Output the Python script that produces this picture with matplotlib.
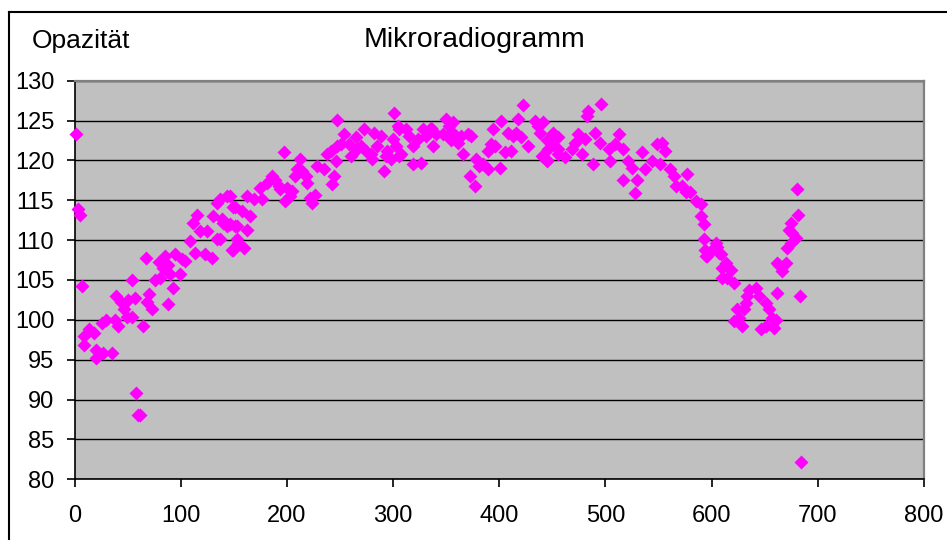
import matplotlib
matplotlib.use("Agg")
import matplotlib.pyplot as plt
from matplotlib.lines import Line2D

# position along the sample (x) and opacity (y)
pos = [1.6, 3, 5, 7, 9, 9, 14, 18, 20.5, 20, 27, 35, 26, 30, 38, 41, 39, 44, 47, 49,
       54, 57, 50, 54.5, 58, 60, 62, 64.6, 67.8, 70, 68.6, 73, 75.6, 79.7, 80.4, 83.5,
       85, 88.2, 89.8, 94.6, 93, 88.2, 99.3, 100.9, 104, 108.7, 113.5, 115, 111.9, 118.2,
       124.5, 129.3, 123, 134, 134, 137, 143.4, 146.6, 149.7, 151.3, 140.2, 130.8, 143.4,
       148.2, 152.9,
       138.7, 146.6, 152.9, 162.4, 165.5, 151.3, 157.6, 137, 149.7, 159.2, 154.4, 162.4,
       168.7, 175, 176.6, 181.3, 186.1, 189.1, 192.3, 193.9, 200.2, 198.6, 203, 204.6,
       197, 212.8, 209.7, 208.1, 214.4, 217.6, 219.2, 222.2, 226.9, 223.8, 228.6, 234.8,
       238, 241.1, 245.8, 244.3, 242.6, 247.5, 246.9, 253.8, 250.6, 258.5, 260, 264.8,
       266.4, 269.5, 272.6, 274.2, 278.9, 280.5, 282.1, 288.4, 285.3, 291.6, 293.1, 294.7,
       297.9, 299.5, 302.6, 301, 304.2, 305.7,
       307.4, 305.8, 312, 315.2, 318.4, 318.4, 326.3, 323.1, 327.8, 331, 335.7, 337.3,
       340.4, 346.7, 349.9, 353, 356.2, 351.5, 354.6, 357.8, 360.9, 364.1, 365.7, 370.4,
       373.6, 372, 378.3, 376.7, 381.4, 384.6, 389.3, 389.3, 394.1, 392.5, 395.6, 400.4,
       401.9, 405.1, 408.3, 411.4, 413, 416.1, 417.7, 422.5, 420.9, 427.2, 433.5, 436.6,
       439.8, 438.2, 444.5, 446.1, 449.3, 450.8, 455.6, 455.6,
       441.3, 444.5, 452.4, 444.5, 455.6, 461.9, 468.2, 474.5, 477.6, 471.3, 483.9, 482.3,
       496, 480.8, 490.2, 488.6, 495, 502.9, 504.5, 512.4, 509.2, 516.6, 517, 521.7,
       524.9, 528.1, 529.6, 534.4, 537.5, 543.8, 548.6, 553.3, 556.5, 551.7, 561.2, 564.4,
       566, 577, 572.2, 575.4, 580.1, 584.9, 589.6, 589.6, 592.8, 592.8, 594.4, 603.8,
       599.1, 607, 610.1, 610.1,
       594, 608.4, 595.7, 605.2, 613.1, 617.8, 614.7, 621, 635.2, 641.5, 644.6, 633.6,
       624.1, 630.4, 632, 620.9, 628.8, 625.7, 646.2, 650.9, 658.8, 657.2, 654.1, 650.9,
       660.4, 662, 663.5, 666.7, 669.8, 662, 671.4, 674.5, 679.3, 676.1, 673, 674.5,
       681.5, 680, 683.5, 684.5]

opacity = [123.3, 113.9, 113.2, 104.2, 96.9, 98.0, 98.8, 98.4, 95.2, 96.2, 95.9, 95.8,
           99.6, 100, 100, 99.2, 103, 102.3, 101.3, 100.3, 100.4, 102.8, 102.5, 105, 90.8,
           88.1, 88.1, 99.2, 107.8, 103.2, 102.3, 101.3, 105, 107.2, 105.3, 106.5, 108,
           106.9, 105.7, 108.2, 104, 102, 105.7, 107.6, 107.4, 109.9, 108.4, 113.2, 112.2,
           111.1, 111.1, 107.8, 108.2, 110.1, 114.7, 115.1, 115.5, 115.5, 114.1, 111.8,
           112.2, 113, 111.8, 108.8, 110.1,
           112.6, 112, 111.8, 111.3, 113, 114.1, 113.6, 110.1, 108.8, 109, 109.7, 115.5,
           115.1, 116.6, 115.1, 117.2, 118.1, 117.6, 116.8, 116.4, 116.6, 114.9, 115.5,
           116.2, 121.1, 120.2, 118.9, 118.1, 118.7, 118.1, 117.2, 115.3, 115.7, 114.7,
           119.3, 118.9, 120.8, 121.2, 119.9, 118.1, 117, 121.8, 125.1, 123.3, 122, 122,
           120.6, 122.9, 121.4, 121.8, 124, 121.2, 120.8, 120.2, 123.5, 123.1, 121.8,
           118.7, 120.6, 121.2, 120.2, 122.7, 121.8, 126, 124.3, 120.6,
           120.8, 123.9, 123.9, 123.1, 121.8, 119.5, 119.7, 122.7, 123.9, 123.1, 124.1,
           121.8, 123.3, 123.3, 125.2, 124.3, 124.8, 123.1, 122.5, 123.3, 122.2, 123.1,
           120.8, 123.3, 123.1, 118.1, 120.2, 116.8, 119.3, 119.5, 118.9, 121.2, 123.9,
           122, 121.8, 119.1, 125, 121, 123.5, 121.2, 123.1, 123.5, 125.2, 126.9, 122.9,
           121.8, 125, 124.3, 120.6, 123.5, 119.9, 121.4, 122, 123.5, 122.9, 120.8,
           124.8, 122.5, 123.1, 120.1, 121.4, 120.4, 121.4, 123.3, 120.8, 122.2, 126.2,
           125.6, 127.1, 122.7, 123.5, 119.5, 122.2, 121.4, 119.9, 123.3, 122, 121.4,
           117.6, 119.9, 119.1, 115.9, 117.6, 121, 118.9, 119.9, 122, 122.2, 121.2, 119.5,
           118.9, 118, 116.8, 118.3, 116.8, 116, 116, 114.9, 114.5, 113, 112, 110.1, 108,
           109.7, 108.6, 108.4, 106.5, 105.3,
           108.8, 108.2, 108, 109.2, 107.1, 106.3, 105.3, 104.6, 103.8, 104, 103, 103,
           101.3, 101.3, 102.1, 99.8, 99.2, 100.2, 98.8, 99.2, 99, 100.2, 101.3, 102.1,
           100, 103.4, 106.9, 106.1, 107.1, 107.1, 109, 109.7, 110.3, 110.9, 111.3, 112.2,
           113.2, 116.4, 103, 82.2]

x_ticks = [0, 100, 200, 300, 400, 500, 600, 700, 800]
y_ticks = [80, 85, 90, 95, 100, 105, 110, 115, 120, 125, 130]

plt.rcParams['font.family'] = ['Liberation Sans', 'DejaVu Sans']

fig = plt.figure(figsize=(9.47, 5.40), dpi=100)
fig.patch.set_facecolor('white')
ax = fig.add_axes([74.5 / 947, 1 - 479.3 / 540, (924 - 74.5) / 947, (479.3 - 80.7) / 540])
ax.set_facecolor('#C0C0C0')

ax.plot(pos, opacity, linestyle='none', marker='D', ms=7, color='#FF00FF',
        mec='none', zorder=3, clip_on=False)

ax.set_xlim(0, 800)
ax.set_ylim(80, 130)
ax.set_xticks(x_ticks)
ax.set_yticks(y_ticks)
ax.yaxis.grid(True, color='black', linewidth=1.0)
ax.set_axisbelow(True)

ax.tick_params(axis='both', direction='out', length=5.5, width=1.2, labelsize=17,
               colors='black')
ax.tick_params(axis='y', pad=9)
ax.tick_params(axis='x', pad=13)

for side in ['left', 'bottom']:
    ax.spines[side].set_color('black')
    ax.spines[side].set_linewidth(1.2)
for side in ['top', 'right']:
    ax.spines[side].set_color('#808080')
    ax.spines[side].set_linewidth(1.6)

fig.text(474 / 947, 1 - 47 / 540, 'Mikroradiogramm', ha='center', va='baseline',
         fontsize=20.5)
fig.text(31.7 / 947, 1 - 48 / 540, 'Opazität', ha='left', va='baseline', fontsize=19)

# outer chart frame
fig.add_artist(Line2D([9 / 947, 9 / 947], [0, 1 - 12 / 540], color='black', lw=1.5,
                      transform=fig.transFigure))
fig.add_artist(Line2D([9 / 947, 1], [1 - 12 / 540, 1 - 12 / 540], color='black', lw=1.5,
                      transform=fig.transFigure))

fig.savefig('out.png', dpi=100)
